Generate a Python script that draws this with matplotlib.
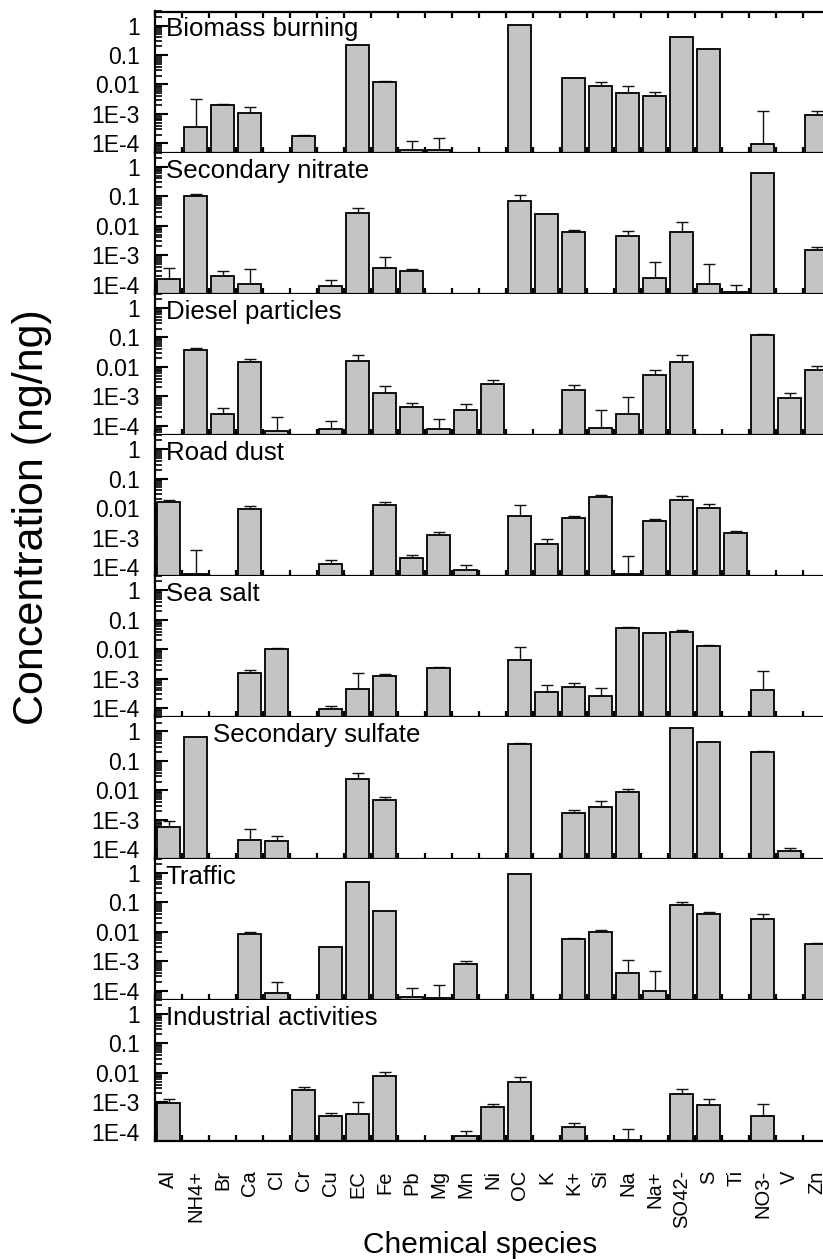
import numpy as np
import matplotlib
matplotlib.use('Agg')
import matplotlib.pyplot as plt
from matplotlib.ticker import FixedLocator, FixedFormatter, LogLocator, NullFormatter

plt.rcParams['font.family'] = ['Liberation Sans', 'DejaVu Sans']

nan = np.nan
species = ['Al', 'NH4+', 'Br', 'Ca', 'Cl', 'Cr', 'Cu', 'EC', 'Fe', 'Pb', 'Mg', 'Mn', 'Ni',
           'OC', 'K', 'K+', 'Si', 'Na', 'Na+', 'SO42-', 'S', 'Ti', 'NO3-', 'V', 'Zn']

sources = ['Biomass burning', 'Secondary nitrate', 'Diesel particles', 'Road dust',
           'Sea salt', 'Secondary sulfate', 'Traffic', 'Industrial activities']

# profile values (ng/ng), one list per source, order as in species
biomass = [nan, 3.5e-4, 2.0e-3, 1.12e-3, nan, 1.78e-4, nan, 0.215, 0.0117, 6.0e-5, 5.8e-5, nan, nan,
           1.02, nan, 0.016, 0.0092, 0.0051, 0.0042, 0.40, 0.157, nan, 9.5e-5, nan, 9.1e-4]
biomass_err = [nan, 2.75e-3, 1e-4, 6.2e-4, nan, 1.5e-5, nan, 5e-3, 1.6e-3, 6.3e-5, 9.2e-5, nan, nan,
               nan, nan, 5e-4, 2.7e-3, 3.8e-3, 1.3e-3, 0.01, nan, nan, 1.15e-3, nan, 3.3e-4]

sec_nitrate = [1.5e-4, 0.103, 1.9e-4, 1.07e-4, nan, nan, 9.0e-5, 0.028, 3.6e-4, 2.8e-4, nan, nan, nan,
               0.067, 0.0247, 6.2e-3, nan, 4.4e-3, 1.7e-4, 5.9e-3, 1.05e-4, 5.6e-5, 0.61, nan, 1.53e-3]
sec_nitrate_err = [2.2e-4, 0.017, 1.06e-4, 2.2e-4, nan, nan, 5.4e-5, 0.011, 5.2e-4, 6e-5, nan, nan, nan,
                   0.042, 1e-3, 8e-4, nan, 2.3e-3, 4.1e-4, 7.6e-3, 4.0e-4, 3.9e-5, nan, nan, 3.7e-4]

diesel = [nan, 0.0366, 2.6e-4, 0.0143, 6.6e-5, nan, 7.5e-5, 0.016, 1.28e-3, 4.3e-4, 7.5e-5, 3.5e-4, 2.6e-3,
          nan, nan, 1.6e-3, 8.7e-5, 2.5e-4, 5.5e-3, 0.0143, nan, nan, 0.118, 9.1e-4, 7.9e-3]
diesel_err = [nan, 6.4e-3, 1.4e-4, 4.4e-3, 1.34e-4, nan, 7.5e-5, 9e-3, 1.0e-3, 1.5e-4, 9.8e-5, 2.1e-4, 1.0e-3,
              nan, nan, 8e-4, 2.6e-4, 6.8e-4, 2.2e-3, 0.0112, nan, nan, 0.016, 3.9e-4, 2.5e-3]

road_dust = [0.0157, 5.6e-5, nan, 9.6e-3, nan, nan, 1.3e-4, nan, 0.0131, 2.05e-4, 1.23e-3, 7.8e-5, nan,
             5.4e-3, 5.8e-4, 4.5e-3, 0.0233, 5.6e-5, 3.6e-3, 0.0184, 0.0104, 1.4e-3, nan, nan, nan]
road_dust_err = [2.7e-3, 3.1e-4, nan, 1.9e-3, nan, nan, 4e-5, nan, 3.1e-3, 4.5e-5, 3.2e-4, 4.2e-5, nan,
                 7.4e-3, 3.2e-4, 8e-4, 3.7e-3, 1.84e-4, 8e-4, 7.6e-3, 3.5e-3, 3e-4, nan, nan, nan]

sea_salt = [nan, nan, nan, 1.56e-3, 9.9e-3, nan, 9.1e-5, 4.5e-4, 1.2e-3, nan, 2.4e-3, nan, nan,
            4.4e-3, 3.6e-4, 5.2e-4, 2.6e-4, 0.0535, 0.0355, 0.039, 0.0131, nan, 4.0e-4, nan, nan]
sea_salt_err = [nan, nan, nan, 3.4e-4, 7e-4, nan, 3.1e-5, 1.1e-3, 3e-4, nan, 1e-4, nan, nan,
                7.5e-3, 2.5e-4, 1.7e-4, 2.2e-4, 1.5e-3, 1e-3, 4.5e-3, 5e-4, nan, 1.37e-3, nan, nan]

sec_sulfate = [5.8e-4, 0.65, nan, 2.1e-4, 1.95e-4, nan, nan, 0.0238, 4.75e-3, nan, nan, nan, nan,
               0.366, nan, 1.67e-3, 2.75e-3, 8.6e-3, nan, 1.31, 0.44, nan, 0.20, 8.6e-5, nan]
sec_sulfate_err = [3.2e-4, nan, nan, 2.8e-4, 9.5e-5, nan, nan, 0.015, 1.05e-3, nan, nan, nan, nan,
                   0.03, nan, 5.3e-4, 1.55e-3, 2.7e-3, nan, nan, nan, nan, 0.018, 2.4e-5, nan]

traffic = [nan, nan, nan, 8.3e-3, 8.1e-5, nan, 3.0e-3, 0.47, 0.049, 5.9e-5, 5.6e-5, 8.2e-4, nan,
           0.88, nan, 5.5e-3, 0.010, 3.8e-4, 9.8e-5, 0.078, 0.0397, nan, 0.0276, nan, 3.9e-3]
traffic_err = [nan, nan, nan, 1.2e-3, 1.2e-4, nan, nan, nan, nan, 6.4e-5, 9.4e-5, 1.7e-4, nan,
               nan, nan, 6e-4, 1e-3, 7.2e-4, 3.5e-4, 0.02, 5e-3, nan, 0.0134, nan, 2e-4]

industrial = [9.8e-4, nan, nan, nan, nan, 2.6e-3, 3.4e-4, 4.1e-4, 8.1e-3, nan, nan, 7.3e-5, 6.9e-4,
              5.0e-3, nan, 1.4e-4, nan, 5.4e-5, nan, 1.84e-3, 8.4e-4, nan, 3.4e-4, nan, nan]
industrial_err = [3.2e-4, nan, nan, nan, nan, 7.5e-4, 9e-5, 6.3e-4, 2.5e-3, nan, nan, 3.3e-5, 1.6e-4,
                  2.3e-3, nan, 5.5e-5, nan, 7e-5, nan, 9.6e-4, 4.6e-4, nan, 5.3e-4, nan, nan]

values = [biomass, sec_nitrate, diesel, road_dust, sea_salt, sec_sulfate, traffic, industrial]
errors = [biomass_err, sec_nitrate_err, diesel_err, road_dust_err, sea_salt_err,
          sec_sulfate_err, traffic_err, industrial_err]

W, H = 823, 1259
fig, axes = plt.subplots(len(sources), 1, figsize=(W / 100, H / 100), dpi=100, sharex=True)
fig.subplots_adjust(left=155 / W, right=830 / W, top=1 - 11.5 / H, bottom=1 - 1141 / H, hspace=0)

x = np.arange(len(species))
for i, ax in enumerate(axes):
    v = np.array(values[i], dtype=float)
    e = np.array(errors[i], dtype=float)
    ok = ~np.isnan(v)
    ax.bar(x[ok], v[ok], width=0.83, bottom=1e-7, color='#c4c4c4',
           edgecolor='black', linewidth=1.3, zorder=2)
    ax.errorbar(x[ok], v[ok], yerr=[np.zeros(ok.sum()), e[ok]], fmt='none',
                ecolor='#111111', elinewidth=1.0, capsize=4.5, capthick=1.0, zorder=1)
    ax.set_yscale('log')
    ax.set_ylim(4.85e-5, 3)
    ax.set_xlim(-0.5, len(species) - 0.5)

    ax.yaxis.set_major_locator(FixedLocator([1e-4, 1e-3, 1e-2, 1e-1, 1]))
    ax.yaxis.set_major_formatter(FixedFormatter(['1E-4', '1E-3', '0.01', '0.1', '1']))
    ax.yaxis.set_minor_locator(LogLocator(base=10, subs=np.arange(2, 10), numticks=20))
    ax.yaxis.set_minor_formatter(NullFormatter())
    ax.tick_params(axis='y', which='major', direction='in', length=9, width=1.5,
                   labelsize=16.5, pad=11)
    ax.tick_params(axis='y', which='minor', direction='in', length=5, width=1.2)

    ax.set_xticks(x)
    ax.set_xticks(np.arange(len(species) + 1) - 0.5, minor=True)
    ax.tick_params(axis='x', which='major', length=0, labelbottom=(i == len(sources) - 1),
                   labelsize=14.5, pad=21, labelrotation=90)
    ax.tick_params(axis='x', which='minor', direction='in', length=4, width=1.6,
                   bottom=True, top=(i == 0))

    for s in ['left', 'bottom', 'top', 'right']:
        ax.spines[s].set_linewidth(1.6)
    if i > 0:
        ax.spines['top'].set_visible(False)

    tx = 0.086 if sources[i] == 'Secondary sulfate' else 0.016
    ax.text(tx, 0.823, sources[i], transform=ax.transAxes, fontsize=18.6, va='baseline', ha='left')

axes[-1].set_xticklabels(species)
for lab in axes[-1].get_xticklabels():
    lab.set_va('top')
    lab.set_ha('center')

fig.text(32 / W, 1 - 517 / H, 'Concentration (ng/ng)', rotation=90, fontsize=31,
         ha='center', va='center')
fig.text(480 / W, 1 - 1253 / H, 'Chemical species', fontsize=21.5, ha='center', va='baseline')

plt.savefig('out.png', dpi=100)
